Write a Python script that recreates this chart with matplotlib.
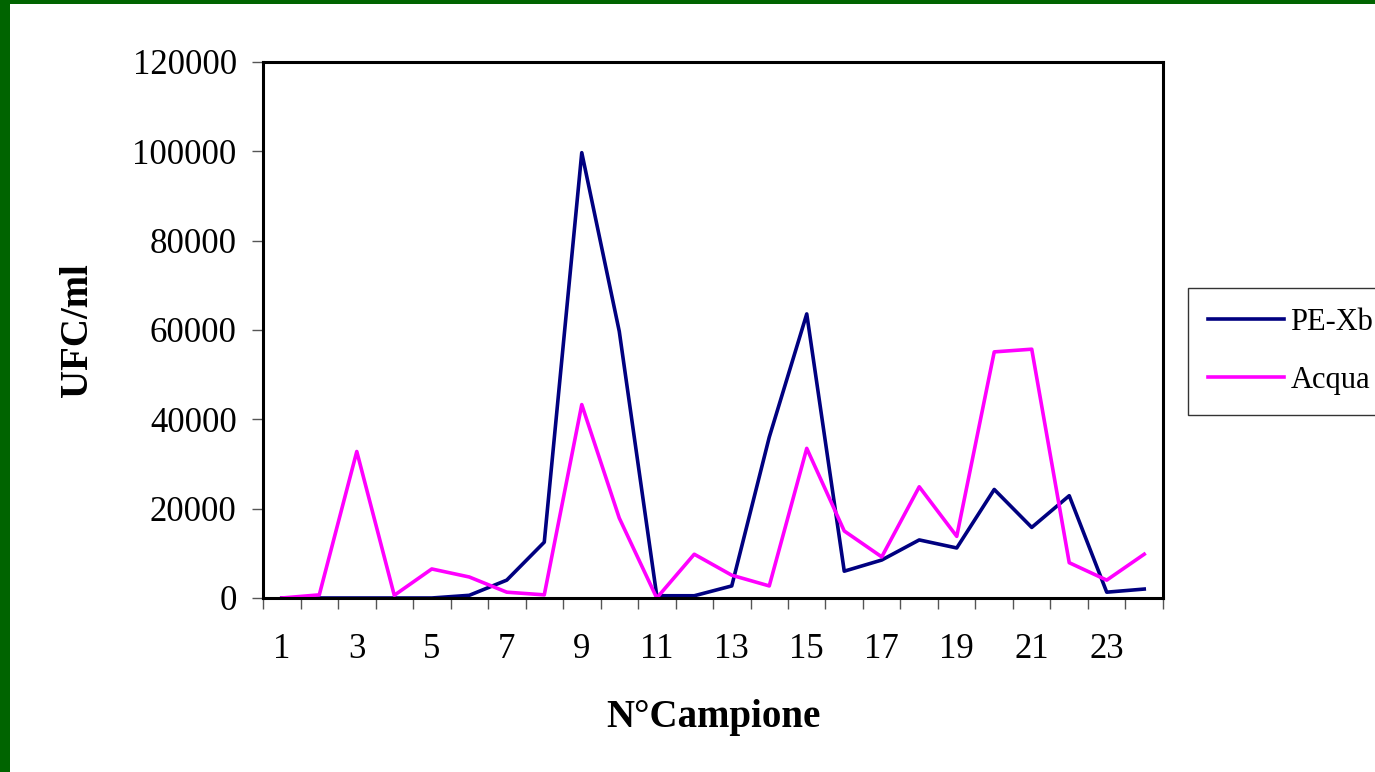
import matplotlib
matplotlib.use("Agg")
import matplotlib.pyplot as plt
from matplotlib.patches import Rectangle

# sample numbers 1..24
campioni = list(range(1, 25))
pe_xb = [0, 0, 0, 0, 0, 600, 4000, 12500, 99700, 59700, 500, 500,
         2700, 36000, 63600, 6000, 8500, 13000, 11200, 24300, 15800, 22900, 1300, 2000]
acqua = [0, 700, 32800, 600, 6500, 4700, 1300, 700, 43300, 17900, 0, 9800,
         5100, 2700, 33500, 15000, 9200, 24900, 13800, 55100, 55700, 7900, 4000, 9800]
x_labels = [str(n) for n in range(1, 25, 2)]
y_ticks = list(range(0, 120001, 20000))

plt.rcParams["font.family"] = ["Liberation Serif", "DejaVu Serif"]

fig = plt.figure(figsize=(13.75, 7.72), dpi=100)
ax = fig.add_axes([0.1913, 0.2254, 0.6545, 0.6943])

ax.plot(campioni, pe_xb, color="#000080", lw=2.6, label="PE-Xb")
ax.plot(campioni, acqua, color="#FF00FF", lw=2.6, label="Acqua")

ax.set_xlim(0.5, 24.5)
ax.set_ylim(0, 120000)
ax.set_yticks(y_ticks, [str(v) for v in y_ticks])
ax.set_xticks([k + 0.5 for k in range(0, 25)], [""] * 25)
ax.set_xticks(list(range(1, 25, 2)), x_labels, minor=True)
ax.tick_params(axis="y", length=8, width=1, color="#555555", pad=11, labelsize=25)
ax.tick_params(axis="x", which="major", length=8, width=1, color="#555555")
ax.tick_params(axis="x", which="minor", length=0, pad=25, labelsize=25)
for s in ax.spines.values():
    s.set_linewidth(2.2)

ax.set_xlabel("N°Campione", fontsize=28, fontweight="bold", labelpad=24)
ax.set_ylabel("UFC/ml", fontsize=28, fontweight="bold", labelpad=26)

leg = ax.legend(loc="upper left", bbox_to_anchor=(1188 / 1375, 1 - 288 / 772),
                bbox_transform=fig.transFigure, borderaxespad=0, fontsize=22,
                frameon=True, fancybox=False, edgecolor="black", handlelength=2.5,
                handletextpad=0.2, labelspacing=0.95, borderpad=0.65)
leg.get_frame().set_linewidth(1.0)

# green slide border on left and top
fig.patches.append(Rectangle((0, 0), 10 / 1375, 1, transform=fig.transFigure,
                             facecolor="#006400", edgecolor="none", zorder=10))
fig.patches.append(Rectangle((0, 1 - 4 / 772), 1, 4 / 772, transform=fig.transFigure,
                             facecolor="#006400", edgecolor="none", zorder=10))

fig.savefig("out.png", dpi=100)
